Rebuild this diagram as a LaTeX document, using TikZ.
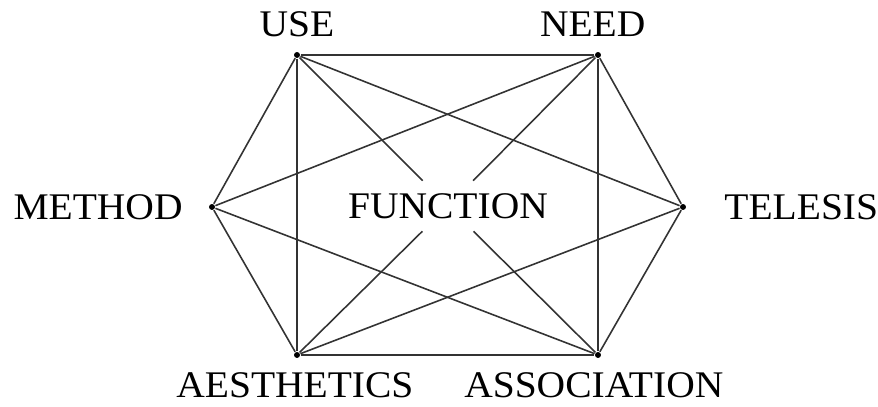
\documentclass[tikz,border=0pt]{standalone}
\usepackage{fontspec}
\setmainfont{Liberation Serif}
\usetikzlibrary{positioning}

\begin{document}
\begin{tikzpicture}[
    x=0.01cm, y=-0.01cm,
    vertex/.style={circle, fill=black, inner sep=0.6pt},
    lbl/.style={inner sep=0pt, xscale=1.05, transform shape, font=\fontsize{10.7}{12}\selectfont},
    link/.style={black!80, line width=0.45pt}
]
    \useasboundingbox (0,0) rectangle (878,407);

    % Vertices
    \node[vertex] (use)     at (297,55)  {};
    \node[vertex] (need)    at (598,55)  {};
    \node[vertex] (method)  at (212,207) {};
    \node[vertex] (telesis) at (683,207) {};
    \node[vertex] (aesth)   at (297,355) {};
    \node[vertex] (assoc)   at (598,355) {};
    \node[lbl, inner ysep=3.4pt] (func) at (448,206) {FUNCTION};

    % Labels
    \node[lbl] (use_l)     [above=0.14cm of use]                  {USE};
    \node[lbl] (need_l)    [above=0.14cm of need, xshift=-0.05cm] {NEED};
    \node[lbl] (method_l)  [left=0.25cm of method]                {METHOD};
    \node[lbl] (telesis_l) [right=0.37cm of telesis]              {TELESIS};
    \node[lbl] (aesth_l)   [below=0.13cm of aesth, xshift=-0.02cm] {AESTHETICS};
    \node[lbl] (assoc_l)   [below=0.13cm of assoc, xshift=-0.04cm] {ASSOCIATION};

    % Connections
    \foreach \a/\b in {use/need, use/method, use/aesth, use/telesis,
                       need/method, need/assoc, need/telesis,
                       method/aesth, method/assoc,
                       telesis/aesth, telesis/assoc, aesth/assoc,
                       use/func, func/assoc, need/func, func/aesth}
        \draw[link] (\a) -- (\b);
\end{tikzpicture}
\end{document}
